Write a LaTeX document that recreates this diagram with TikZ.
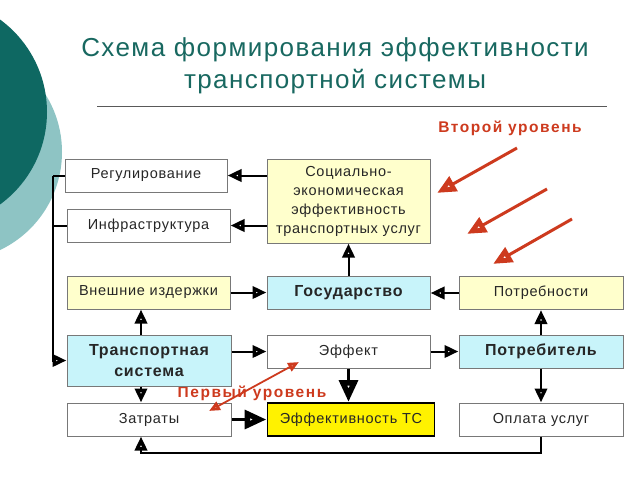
\documentclass[tikz,border=0pt]{standalone}
\usepackage{fontspec}
\setmainfont{Liberation Sans}
\usetikzlibrary{arrows.meta,calc}
\definecolor{tealA}{RGB}{14,104,98}
\definecolor{tealB}{RGB}{142,196,196}
\definecolor{titlec}{RGB}{24,104,96}
\definecolor{redc}{RGB}{205,58,30}
\definecolor{ylw}{RGB}{255,255,204}
\definecolor{cyn}{RGB}{200,244,250}
\definecolor{bord}{RGB}{120,120,120}
\newfontfamily\boxfont[LetterSpace=5]{Liberation Sans}
\newfontfamily\boxbold[LetterSpace=5]{Liberation Sans Bold}
\newfontfamily\redfont[LetterSpace=10]{Liberation Sans Bold}
\newfontfamily\titlefont[LetterSpace=5.5]{Liberation Sans}
\tikzset{
  box/.style={draw=bord, line width=1pt, inner sep=0pt, align=center,
    minimum width=163pt, minimum height=33pt, text=black!85,
    font=\boxfont\fontsize{14.5}{19}\selectfont},
  boldbox/.style={box, fill=cyn, font=\boxbold\fontsize{16}{21}\selectfont},
  conn/.style={line width=2pt, -{Triangle[open,length=14pt,width=12pt,line width=4pt]}},
  bigconn/.style={line width=3.5pt, -{Triangle[open,length=22pt,width=18pt,line width=6.5pt]}},
  plain/.style={line width=2pt},
  redarr/.style={draw=redc, line width=3pt, -{Triangle[open,length=19pt,width=16pt,line width=5.5pt]}},
  reddbl/.style={draw=redc, line width=1.8pt, {Triangle[open,length=11pt,width=9pt,line width=3pt]}-{Triangle[open,length=11pt,width=9pt,line width=3pt]}},
  redlab/.style={text=redc, font=\redfont\fontsize{15.5}{17}\selectfont}
}
\begin{document}
\begin{tikzpicture}[x=1pt,y=-1pt]
\useasboundingbox (0,0) rectangle (640,480);
\fill[tealB] (-46.5,152) circle (108.5pt);
\fill[tealA] (-67.5,112) circle (114.5pt);
% title
\node[text=titlec, font=\titlefont\fontsize{26}{32}\selectfont, align=center] (title) at (335,66)
  {Схема формирования эффективности\\транспортной системы};
\coordinate (hl1) at (97,106);
\coordinate (hl2) at (607,106);
\draw[line width=1pt, black!65] (hl1) -- (hl2);
\node[redlab] (lvl2) at (510,128) {Второй уровень};
\node[redlab] (lvl1) at (252,393) {Первый уровень};
% boxes
\node[box, minimum width=162pt] (reg) at (146,175.5) {Регулирование};
\node[box] (inf) at (148.5,225.5) {Инфраструктура};
\node[box, fill=ylw, minimum height=84pt] (soc) at (348.5,201)
  {Социально-\\экономическая\\эффективность\\транспортных услуг};
\node[box, fill=ylw] (vn) at (148.5,292.5) {Внешние издержки};
\node[boldbox] (gos) at (348.5,292.5) {Государство};
\node[box, fill=ylw, minimum width=164pt] (potr) at (541,293) {Потребности};
\node[boldbox, minimum width=164pt, minimum height=51pt] (ts) at (149,360.5) {Транспортная\\система};
\node[box] (eff) at (348.5,351.5) {Эффект};
\node[boldbox, minimum width=164pt] (cons) at (541,351.5) {Потребитель};
\node[box, minimum width=164pt] (zat) at (149,419.5) {Затраты};
\node[box, fill=yellow, draw=black, line width=1.6pt, minimum width=167pt] (ets) at (351,419.5) {Эффективность ТС};
\node[box, minimum width=164pt] (opl) at (541,419.5) {Оплата услуг};
% helper coordinates
\coordinate (lx) at (141,0);
\coordinate (bx) at (53,0);
\coordinate (by) at (0,453);
% connectors
\draw[conn] (soc.west |- reg) -- (reg.east);
\draw[conn] (soc.west |- inf) -- (inf.east);
\draw[conn] (gos.north) -- (soc.south);
\draw[conn] (vn.east) -- (gos.west);
\draw[conn] (potr.west) -- (gos.east |- potr);
\draw[conn] (lx |- ts.north) -- (lx |- vn.south);
\draw[conn] (ts.east |- eff) -- (eff.west);
\draw[conn] (eff.east) -- (cons.west);
\draw[conn] (cons.north) -- (cons.north |- potr.south);
\draw[conn] (cons.south) -- (opl.north);
\draw[conn] (lx |- ts.south) -- (lx |- zat.north);
\draw[bigconn] (eff.south) -- (eff.south |- ets.north);
\draw[bigconn] (zat.east) -- (ets.west);
\draw[conn] (opl.south) -- (opl.south |- by) -- (lx |- by) -- (lx |- zat.south);
\draw[plain] (reg.west) -- (bx |- reg);
\draw[plain] (inf.west) -- (bx |- inf);
\draw[conn] (bx |- reg) -- (bx |- ts) -- (ts.west);
% red arrows
\coordinate (r1a) at (517,148); \coordinate (r1b) at (437,193);
\coordinate (r2a) at (547,189); \coordinate (r2b) at (467,234);
\coordinate (r3a) at (572,219); \coordinate (r3b) at (493,264);
\coordinate (dA) at (209,411); \coordinate (dB) at (299,362);
\draw[redarr] (r1a) -- (r1b);
\draw[redarr] (r2a) -- (r2b);
\draw[redarr] (r3a) -- (r3b);
\draw[reddbl] (dA) -- (dB);
\end{tikzpicture}
\end{document}
